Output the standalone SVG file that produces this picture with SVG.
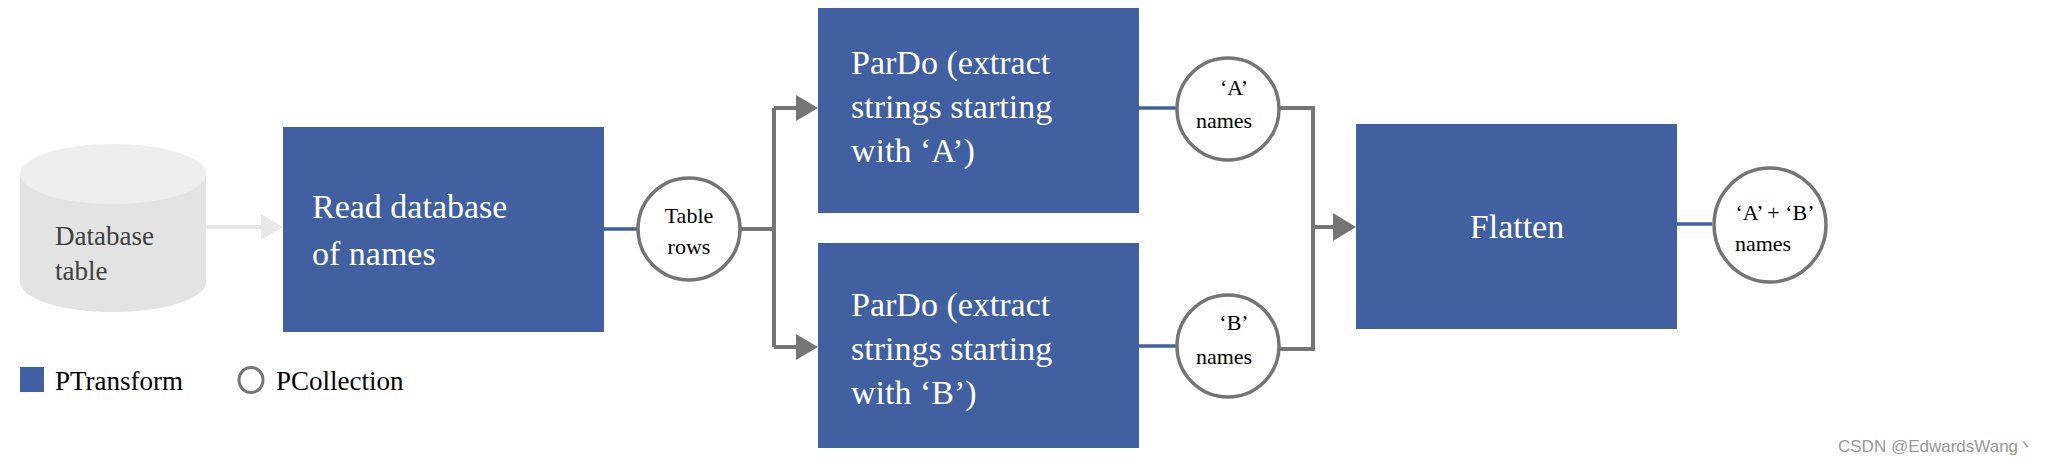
<svg xmlns="http://www.w3.org/2000/svg" width="2058" height="464" viewBox="0 0 2058 464">
<style>
.box{fill:#4060A1}
.pc{fill:#fff;stroke:#757575;stroke-width:3.5}
.wt{font-family:"Liberation Serif",serif;fill:#fff;font-size:34px}
.bt{font-family:"Liberation Serif",serif;fill:#000;font-size:22px}
.g{fill:none;stroke:#757575;stroke-width:4}
.b{fill:none;stroke:#4060A1;stroke-width:3.5}
</style>
<defs>
<marker id="ah" viewBox="0 0 10 10" refX="10" refY="5" markerWidth="6" markerHeight="6" markerUnits="userSpaceOnUse" orient="auto"><path d="M0,0L10,5L0,10z" fill="#757575"/></marker>
</defs>
<rect width="2058" height="464" fill="#fff"/>
<g id="db">
<path d="M20,174 V282 A93,30 0 0 0 206,282 V174 Z" fill="#E3E3E3"/>
<ellipse cx="113" cy="174" rx="93" ry="30" fill="#EEEEEE"/>
<text x="55" y="245" font-family="Liberation Serif,serif" font-size="27" fill="#404040">Database</text>
<text x="55" y="280" font-family="Liberation Serif,serif" font-size="27" fill="#404040">table</text>
</g>
<g id="connectors">
<line x1="206" y1="227" x2="262" y2="227" stroke="#E8E8E8" stroke-width="4"/>
<path d="M261,214L283,227L261,240z" fill="#E8E8E8"/>
<line class="b" x1="604" y1="229" x2="637" y2="229"/>
<path class="g" d="M740,229H774M774,108V347M774,108H800M774,347H800"/>
<path d="M796,95L818,108L796,121zM796,334L818,347L796,360z" fill="#757575"/>
<line class="b" x1="1139" y1="108" x2="1177" y2="108"/>
<line class="b" x1="1139" y1="346" x2="1177" y2="346"/>
<path class="g" d="M1279,108H1313V349H1279M1313,227H1336"/>
<path d="M1333,213L1356,227L1333,241z" fill="#757575"/>
<line class="b" x1="1677" y1="224" x2="1712" y2="224"/>
</g>
<g id="read"><rect class="box" x="283" y="127" width="321" height="205"/>
<text class="wt" x="312" y="218">Read database</text><text class="wt" x="312" y="265">of names</text></g>
<g id="rows"><circle class="pc" cx="689" cy="229" r="51"/>
<text class="bt" x="689" y="223" text-anchor="middle">Table</text><text class="bt" x="689" y="254" text-anchor="middle">rows</text></g>
<g id="pardoA"><rect class="box" x="818" y="8" width="321" height="205"/>
<text class="wt" x="851" y="74">ParDo (extract</text><text class="wt" x="851" y="118">strings starting</text><text class="wt" x="851" y="162">with ‘A’)</text></g>
<g id="pardoB"><rect class="box" x="818" y="243" width="321" height="205"/>
<text class="wt" x="851" y="316">ParDo (extract</text><text class="wt" x="851" y="360">strings starting</text><text class="wt" x="851" y="404">with ‘B’)</text></g>
<g id="namesA"><circle class="pc" cx="1228" cy="109" r="51"/>
<text class="bt" x="1234" y="95" text-anchor="middle">‘A’</text><text class="bt" x="1224" y="128" text-anchor="middle">names</text></g>
<g id="namesB"><circle class="pc" cx="1228" cy="346" r="51"/>
<text class="bt" x="1234" y="330" text-anchor="middle">‘B’</text><text class="bt" x="1224" y="364" text-anchor="middle">names</text></g>
<g id="flatten"><rect class="box" x="1356" y="124" width="321" height="205"/>
<text class="wt" x="1517" y="238" text-anchor="middle" font-size="36">Flatten</text></g>
<g id="ab"><ellipse class="pc" cx="1770" cy="225" rx="56" ry="57"/>
<text class="bt" x="1775" y="220" text-anchor="middle">‘A’ + ‘B’</text><text class="bt" x="1763" y="251" text-anchor="middle">names</text></g>
<g id="legend">
<rect class="box" x="20" y="367" width="24" height="25"/>
<text x="55" y="390" font-family="Liberation Serif,serif" font-size="27" fill="#000">PTransform</text>
<ellipse cx="251" cy="380" rx="12" ry="12.5" fill="#fff" stroke="#757575" stroke-width="3"/>
<text x="276" y="390" font-family="Liberation Serif,serif" font-size="27" fill="#000">PCollection</text>
</g>
<text x="1838" y="452" font-family="Liberation Sans,sans-serif" font-size="17" fill="#999">CSDN @EdwardsWang丶</text>
</svg>
